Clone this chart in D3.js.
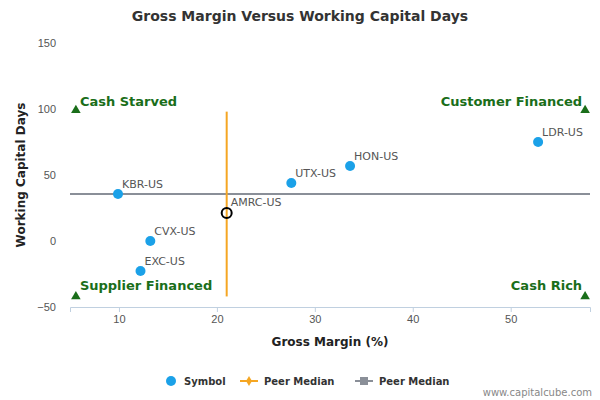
<!DOCTYPE html>
<html><head><meta charset="utf-8">
<script src="https://cdn.jsdelivr.net/npm/d3@7"></script>
<style>body{margin:0;font-family:"DejaVu Sans",sans-serif;background:#fff}</style>
</head><body><div id="chart"></div>
<script>
var symbols = ["KBR-US","CVX-US","EXC-US","UTX-US","HON-US","LDR-US"];
var grossMargin = [9.9, 13.2, 12.2, 27.6, 33.6, 52.8];
var wcDays = [35.6, 0, -22.7, 43.9, 56.8, 75];
var target = {name: "AMRC-US", x: 21.0, y: 21.2};
var peerMedianX = 21.0, peerMedianY = 35.6;
var xTicks = [10, 20, 30, 40, 50];
var yTicks = [-50, 0, 50, 100, 150];
var corners = [
  {label: "Cash Starved", x: 5.6, y: 99, side: "left", dy: -4},
  {label: "Customer Financed", x: 57.6, y: 99, side: "right", dy: -4},
  {label: "Supplier Financed", x: 5.6, y: -42, side: "left", dy: -6},
  {label: "Cash Rich", x: 57.6, y: -42, side: "right", dy: -6}
];

var W = 600, H = 400;
var svg = d3.select("#chart").append("svg").attr("width", W).attr("height", H);
var x = d3.scaleLinear().domain([5, 58.1]).range([70, 590]);
var y = d3.scaleLinear().domain([-50, 150]).range([307, 43]);

svg.append("text").attr("x", 300).attr("y", 21).attr("text-anchor", "middle")
  .attr("font-size", 14).attr("font-weight", "bold").attr("fill", "#333")
  .text("Gross Margin Versus Working Capital Days");

// axes
var gx = svg.append("g").attr("transform", "translate(0,307)")
  .call(d3.axisBottom(x).tickValues(xTicks).tickSize(5));
gx.select(".domain").attr("stroke", "#c0d0e0");
gx.selectAll(".tick line").attr("stroke", "#c0d0e0");
gx.selectAll("text").attr("fill", "#555").attr("font-size", 11);

var gy = svg.append("g").attr("transform", "translate(70,0)")
  .call(d3.axisLeft(y).tickValues(yTicks).tickSize(0).tickPadding(14));
gy.select(".domain").remove();
gy.selectAll("text").attr("fill", "#555").attr("font-size", 11);

svg.append("text").attr("x", 330).attr("y", 346).attr("text-anchor", "middle")
  .attr("font-size", 12).attr("font-weight", "bold").attr("fill", "#222").text("Gross Margin (%)");
svg.append("text").attr("transform", "translate(25,175) rotate(-90)").attr("text-anchor", "middle")
  .attr("font-size", 12).attr("font-weight", "bold").attr("fill", "#222").text("Working Capital Days");

// median lines
svg.append("line").attr("x1", x(5)).attr("x2", x(58.1))
  .attr("y1", y(peerMedianY)).attr("y2", y(peerMedianY))
  .attr("stroke", "#8a8f98").attr("stroke-width", 2);
svg.append("line").attr("x1", x(peerMedianX)).attr("x2", x(peerMedianX))
  .attr("y1", y(98)).attr("y2", y(-42))
  .attr("stroke", "#f5a623").attr("stroke-width", 2);

// corners
var tri = d3.symbol().type(d3.symbolTriangle).size(40);
corners.forEach(function (c) {
  svg.append("path").attr("d", tri).attr("fill", "#1a6e1a")
    .attr("transform", "translate(" + x(c.x) + "," + y(c.y) + ")");
  svg.append("text").attr("x", c.side === "left" ? x(c.x) + 4 : x(c.x) - 3)
    .attr("y", y(c.y) + c.dy).attr("text-anchor", c.side === "left" ? "start" : "end")
    .attr("font-size", 13).attr("font-weight", "bold").attr("fill", "#1a6e1a").text(c.label);
});

// points
symbols.forEach(function (s, i) {
  svg.append("circle").attr("cx", x(grossMargin[i])).attr("cy", y(wcDays[i])).attr("r", 5)
    .attr("fill", "#1ba1e8");
  svg.append("text").attr("x", x(grossMargin[i]) + 4).attr("y", y(wcDays[i]) - 6)
    .attr("font-size", 11).attr("fill", "#555").text(s);
});
svg.append("circle").attr("cx", x(target.x)).attr("cy", y(target.y)).attr("r", 5)
  .attr("fill", "none").attr("stroke", "#000").attr("stroke-width", 2);
svg.append("text").attr("x", x(target.x) + 4).attr("y", y(target.y) - 7)
  .attr("font-size", 11).attr("fill", "#555").text(target.name);

// legend
var lg = svg.append("g").attr("font-size", 10).attr("font-weight", "bold").attr("fill", "#333");
lg.append("circle").attr("cx", 171).attr("cy", 381).attr("r", 5).attr("fill", "#1ba1e8");
lg.append("text").attr("x", 184).attr("y", 385).text("Symbol");
lg.append("line").attr("x1", 240).attr("x2", 258).attr("y1", 381).attr("y2", 381).attr("stroke", "#f5a623").attr("stroke-width", 2);
lg.append("path").attr("d", d3.symbol().type(d3.symbolDiamond).size(30)).attr("fill", "#f5a623").attr("transform", "translate(249,381)");
lg.append("text").attr("x", 264).attr("y", 385).text("Peer Median");
lg.append("line").attr("x1", 355).attr("x2", 373).attr("y1", 381).attr("y2", 381).attr("stroke", "#8a8f98").attr("stroke-width", 2);
lg.append("rect").attr("x", 360).attr("y", 377).attr("width", 8).attr("height", 8).attr("fill", "#8a8f98");
lg.append("text").attr("x", 379).attr("y", 385).text("Peer Median");

svg.append("text").attr("x", 592).attr("y", 396).attr("text-anchor", "end")
  .attr("font-size", 10).attr("fill", "#888").text("www.capitalcube.com");
</script></body></html>
